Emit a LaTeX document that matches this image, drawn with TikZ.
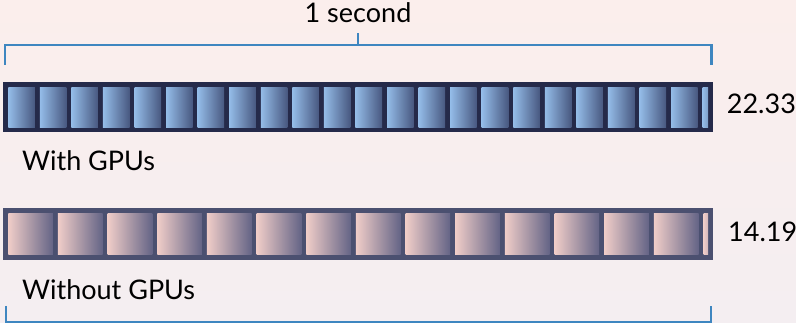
\documentclass[tikz,border=0pt]{standalone}
\usepackage{fontspec}
\setmainfont{Lato}
\usepackage{tikz}
\usetikzlibrary{positioning}
\definecolor{bgtop}{RGB}{251,238,236}
\definecolor{bgbottom}{RGB}{244,238,241}
\definecolor{bracketblue}{RGB}{62,134,192}
\definecolor{gpuframe}{RGB}{37,42,74}
\definecolor{gpulight}{RGB}{148,188,232}
\definecolor{gpudark}{RGB}{72,88,128}
\definecolor{cpuframe}{RGB}{75,80,112}
\definecolor{cpulight}{RGB}{240,205,200}
\definecolor{cpudark}{RGB}{100,100,134}
\tikzstyle{bracket} = [line width=2.5pt, color=bracketblue]
\tikzstyle{framebar} = [rectangle, inner sep=0pt, minimum width=709.7pt]
\tikzstyle{txt} = [font=\fontsize{27}{31}\selectfont, anchor=base west, inner sep=0pt]

\begin{document}
\begin{tikzpicture}[x=1pt, y=-1pt]
\shade[top color=bgtop, bottom color=bgbottom] (0,0) rectangle (796,323);
\useasboundingbox (0,0) rectangle (796,323);
% one second span
\coordinate (tl) at (5,65);
\coordinate (tm) at (358,45);
\coordinate (tr) at (711.5,65);
\draw[bracket] (tl) |- (tm) -| (tr);
\draw[bracket] (tm) -- ++(0,-12);
\node[txt, anchor=base] (span) at (358,23) {1 second};
% with GPUs
\node[framebar, minimum height=50.6pt, fill=gpuframe] (gpubar) at (358.15,107) {};
\foreach \i in {0,...,21}
  \shade[left color=gpulight, right color=gpudark] ({8.3+\i*31.56},87.3) rectangle ({3.3+(\i+1)*31.56},127.7);
\shade[left color=gpulight, right color=gpulight!70!gpudark] ({8.3+22*31.56},87.3) rectangle (708,127.7);
\node[txt] (gpurate) at (726.7,114) {22.33};
\node[txt] (gpulabel) at (22,170.7) {With GPUs};
% without GPUs
\node[framebar, minimum height=51.7pt, fill=cpuframe] (cpubar) at (358.15,234.15) {};
\foreach \i in {0,...,13}
  \shade[left color=cpulight, right color=cpudark] ({8.3+\i*49.66},213.3) rectangle ({3.3+(\i+1)*49.66},254.3);
\shade[left color=cpulight, right color=cpulight!80!cpudark] ({8.3+14*49.66},213.3) rectangle (708,254.3);
\node[txt] (cpurate) at (728,241.7) {14.19};
\node[txt] (cpulabel) at (22,300) {Without GPUs};
% bottom span
\coordinate (bl) at (6,306);
\coordinate (bm) at (358,322);
\coordinate (br) at (711,306);
\draw[bracket] (bl) |- (bm) -| (br);
\end{tikzpicture}
\end{document}
